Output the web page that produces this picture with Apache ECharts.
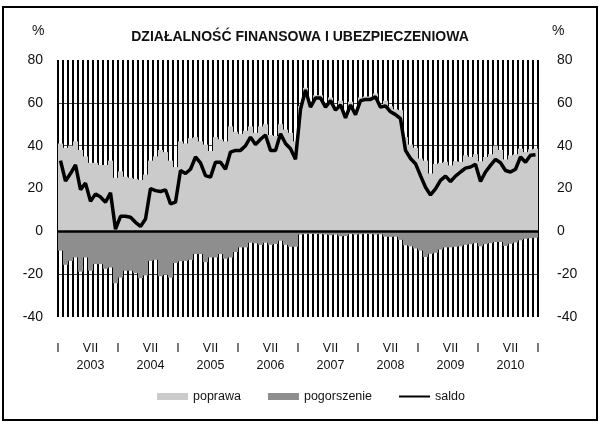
<!DOCTYPE html>
<html>
<head>
<meta charset="utf-8">
<script src="https://cdn.jsdelivr.net/npm/echarts@6/dist/echarts.min.js"></script>
<style>
  html, body { margin: 0; padding: 0; background: #fff; }
  #chart { width: 600px; height: 426px; }
</style>
</head>
<body>
<div id="chart"></div>
<script>
const FONT = '"Liberation Sans", Arial, sans-serif'

const years = ['2003', '2004', '2005', '2006', '2007', '2008', '2009', '2010']
const yTicks = { min: -40, max: 80, step: 20 }

// monthly values, Jan 2003 - Dec 2010
const poprawa = [
  41, 39, 40, 42, 38, 35, 32, 32, 31, 31, 33, 25,
  28, 25.5, 25, 24.5, 24, 26.5, 33, 35, 38, 37, 33, 30,
  42, 41, 43.5, 44, 42, 40.5, 37.5, 44, 43, 42, 49, 46.5,
  45.5, 47, 49, 46, 49, 50, 45, 44.5, 50, 47.5, 46, 42,
  58.5, 67, 59.5, 63.5, 63.5, 59.5, 62.5, 58, 61, 55, 60.5, 56,
  62.5, 63, 63, 64.3, 59.5, 61, 58.3, 57, 56.6, 44, 40.5, 39,
  34, 33, 27, 31.5, 32, 32.5, 30.8, 32.7, 32.5, 35.5, 34.7, 36,
  32.7, 34.7, 36, 40, 38, 33.6, 35.5, 36, 38.6, 37, 38.3, 38.6,
]

const pogorszenie = [
  -9, -15.6, -13.8, -12.2, -18.8, -12.2, -18.4, -15.3, -15.3, -17.5, -16.9, -24.2,
  -21.6, -18.4, -18.4, -19.5, -21.9, -20.6, -13.8, -13.3, -21, -20.3, -21.6, -14.8,
  -14, -13.8, -13.3, -10.6, -10.6, -14.4, -12.2, -12.2, -10.6, -12.8, -12.2, -9.7,
  -7.5, -7.5, -5.3, -5.6, -6.3, -5.3, -6.3, -5.9, -4.4, -6.3, -7.2, -7.2,
  -1.5, -1.3, -1.2, -1.3, -1.3, -1.5, -1.8, -1.5, -2.3, -2.2, -1.3, -1.5,
  -1.4, -1.2, -1.3, -1.5, -1.4, -2.5, -2.6, -2.5, -4, -6.5, -7, -8,
  -9, -12, -10.5, -10, -8.5, -7.5, -7.5, -7.2, -7, -6.3, -6, -5.5,
  -7, -6, -5.5, -5, -5, -6.8, -5.8, -5.2, -4.2, -3.5, -3.2, -3,
]

const saldo = [
  33, 23.5, 27, 31, 19.5, 22.5, 14, 17.5, 16, 13.6, 18, 1,
  7, 7, 6.6, 4.2, 2.3, 5.8, 20, 19, 18.6, 19.4, 12.8, 13.6,
  28.4, 27, 29, 34.7, 32, 26, 25.3, 32.3, 32.3, 29, 37, 37.8,
  37.8, 40, 44, 40.5, 43, 45, 37.8, 37.8, 45.6, 41, 38.6, 33.6,
  57, 66, 58, 62.3, 62.3, 58, 61, 56.6, 59, 53, 59, 54.5,
  61, 61.6, 61.6, 62.8, 58, 58.6, 55.8, 54.5, 52.6, 37.8, 34, 31.6,
  26, 20.6, 17, 19.8, 23.8, 25.8, 23.3, 25.8, 27.7, 29.5, 30, 31.3,
  23.3, 27.7, 30.8, 33.6, 32, 28.4, 27.7, 29, 34.7, 32.3, 35.5, 35.8,
]

const months = []
years.forEach((y) => {
  for (let m = 1; m <= 12; m++) months.push(y + '-' + String(m).padStart(2, '0'))
})

const chart = echarts.init(document.getElementById('chart'), null, { renderer: 'canvas' })

// I at the start of each year, VII + year under July
const monthLabel = (v) => {
  if (v % 12 === 0) return 'I'
  if ((v - 6.5) % 12 === 0) return 'VII\n' + years[(v - 6.5) / 12]
  return ''
}

const yLabelStyle = {
  color: '#111',
  fontFamily: FONT,
  fontSize: 14,
}

chart.setOption({
  animation: false,
  backgroundColor: '#fff',
  title: {
    text: 'DZIAŁALNOŚĆ FINANSOWA I UBEZPIECZENIOWA',
    left: 'center',
    top: 25,
    textStyle: { color: '#111', fontFamily: FONT, fontSize: 14, fontWeight: 'bold' },
  },
  graphic: [
    {
      type: 'rect',
      shape: { x: 3, y: 7, width: 594, height: 413 },
      style: { fill: null, stroke: '#000', lineWidth: 2 },
      silent: true,
    },
    {
      type: 'text', left: 32, top: 24,
      style: { text: '%', fill: '#111', font: '14px ' + FONT },
    },
    {
      type: 'text', left: 552, top: 24,
      style: { text: '%', fill: '#111', font: '14px ' + FONT },
    },
  ],
  legend: {
    data: [
      { name: 'poprawa', icon: 'rect' },
      { name: 'pogorszenie', icon: 'rect' },
      { name: 'saldo', icon: 'path://M0,0L0,0.01M0,2.6H31V4.6H0ZM31,7L31,7.01' },
    ],
    left: 152,
    top: 385,
    itemWidth: 31,
    itemHeight: 7,
    itemGap: 27,
    selectedMode: false,
    textStyle: { color: '#111', fontFamily: FONT, fontSize: 12.5 },
  },
  // 480px wide plot -> whole-pixel month bands, so bars hide the hatching cleanly
  grid: { left: 58, right: 62, top: 60, bottom: 109 },
  xAxis: [
    {
      type: 'category',
      data: months,
      axisLine: { show: false },
      axisTick: { show: false },
      axisLabel: { show: false },
      // vertical hatching of the plot background, one line per month
      splitLine: { show: true, interval: 0, lineStyle: { color: '#000', width: 2 } },
    },
    {
      type: 'value',
      position: 'bottom',
      min: 0,
      max: 96,
      interval: 0.5,
      axisLine: { show: false },
      axisTick: { show: false },
      splitLine: { show: false },
      axisLabel: {
        formatter: monthLabel,
        color: '#111',
        fontFamily: FONT,
        fontSize: 12.5,
        lineHeight: 17,
        margin: 23,
      },
    },
  ],
  yAxis: [
    {
      type: 'value',
      min: yTicks.min,
      max: yTicks.max,
      interval: yTicks.step,
      axisLine: { show: false },
      axisTick: { show: false },
      axisLabel: { ...yLabelStyle, margin: 15 },
      splitLine: {
        show: true,
        showMinLine: false,
        showMaxLine: false,
        lineStyle: { color: '#444', width: 1 },
      },
    },
    {
      type: 'value',
      position: 'right',
      min: yTicks.min,
      max: yTicks.max,
      interval: yTicks.step,
      axisLine: { show: false },
      axisTick: { show: false },
      axisLabel: { ...yLabelStyle, margin: 19 },
      splitLine: { show: false },
    },
  ],
  series: [
    {
      name: 'poprawa',
      type: 'bar',
      data: poprawa,
      barWidth: '100%',
      barGap: '-100%',
      itemStyle: { color: '#cbcbcb', borderWidth: 0 },
      silent: true,
      // zero line over the bars
      markLine: {
        silent: true,
        symbol: 'none',
        label: { show: false },
        lineStyle: { color: '#000', width: 2.5, type: 'solid' },
        data: [{ yAxis: 0 }],
      },
    },
    {
      name: 'pogorszenie',
      type: 'bar',
      data: pogorszenie,
      barWidth: '100%',
      barGap: '-100%',
      itemStyle: { color: '#8e8e8e', borderWidth: 0 },
      silent: true,
    },
    {
      name: 'saldo',
      type: 'line',
      data: saldo,
      z: 6,
      symbol: 'none',
      lineStyle: { color: '#000', width: 3.5 },
      itemStyle: { color: '#000' },
      silent: true,
    },
  ],
})
</script>
</body>
</html>
